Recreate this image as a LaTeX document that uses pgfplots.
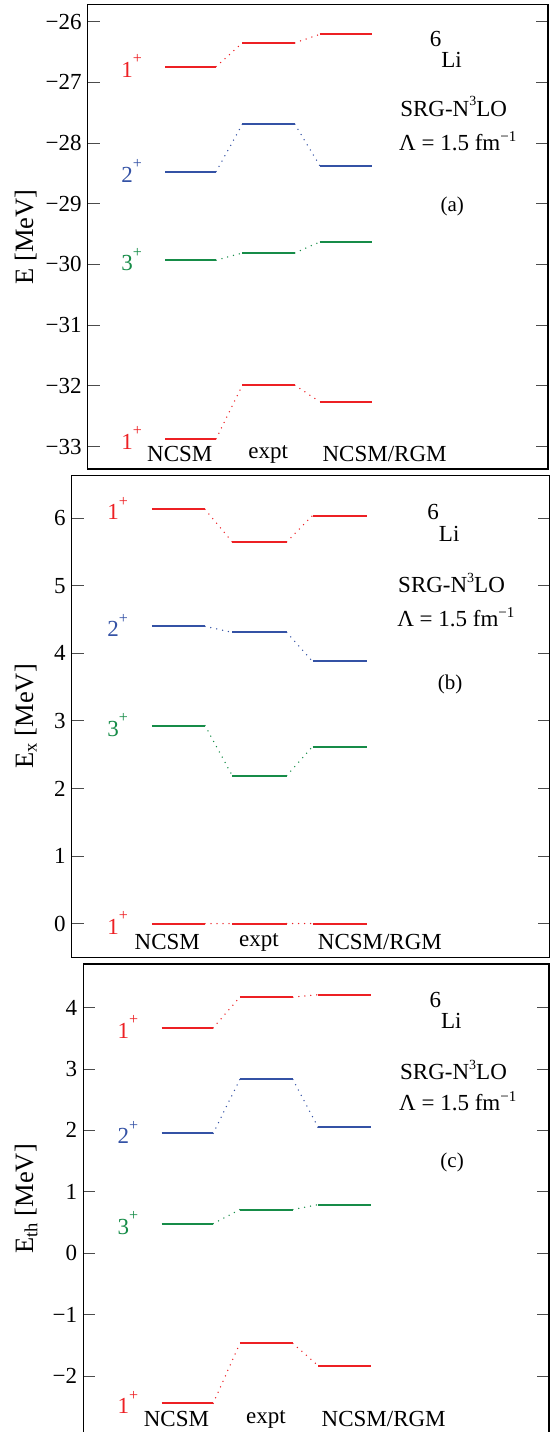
\documentclass[border=0pt]{standalone}
\usepackage{fontspec}
\setmainfont{Liberation Serif}
\usepackage{pgfplots}
\pgfplotsset{compat=1.18}

\definecolor{lvred}{RGB}{237,32,36}
\definecolor{lvblue}{RGB}{52,82,165}
\definecolor{lvgreen}{RGB}{22,140,72}

\newcommand{\fs}[1]{\fontsize{#1}{#1}\selectfont}

\pgfplotsset{
  levelpanel/.style={
    scale only axis, anchor=south west,
    xmin=0, xmax=1, xtick=\empty,
    tick align=inside, major tick length=12pt,
    tick style={line width=0.9pt, black!70},
    axis line style={line width=1.1pt},
    yticklabel style={font=\fs{23}, inner sep=0pt, xshift=-6pt},
    clip=false,
  },
  lvl/.style={line width=2pt},
  conn/.style={line width=1.5pt, line cap=round, dash pattern=on 0pt off 6pt},
}

% one spin state: colour, NCSM, expt, NCSM/RGM energy, J label
\newcommand{\levels}[5]{%
  \addplot[#1, conn] coordinates {(0.279,#2) (0.336,#3)};
  \addplot[#1, conn] coordinates {(0.450,#3) (0.504,#4)};
  \addplot[#1, lvl] coordinates {(0.168,#2) (0.279,#2)};
  \addplot[#1, lvl] coordinates {(0.336,#3) (0.450,#3)};
  \addplot[#1, lvl] coordinates {(0.504,#4) (0.617,#4)};
  \node[text=#1, anchor=base east, inner sep=0pt, yshift=-10.5pt, font=\fs{23}]
    at (axis cs:0.118,#2) {#5\raisebox{13.5pt}{\fs{16}+}};
}

% column names and nucleus / interaction text
\newcommand{\columns}{%
  \node[anchor=base, inner sep=0pt, font=\fs{23}] at (rel axis cs:0.200,0) [yshift=7.5pt] {NCSM};
  \node[anchor=base, inner sep=0pt, font=\fs{23}] at (rel axis cs:0.392,0) [yshift=10.8pt] {expt};
  \node[anchor=base, inner sep=0pt, font=\fs{23}] at (rel axis cs:0.645,0) [yshift=7.5pt] {NCSM/RGM};
}
\newcommand{\nucleus}[5]{%
  \node[anchor=base, inner sep=0pt, font=\fs{23}] at (rel axis cs:0.778,1) [yshift=-#1pt] {\raisebox{21.5pt}{6}Li};
  \node[anchor=base, inner sep=0pt, font=\fs{23}] at (rel axis cs:0.795,1) [yshift=-#2pt] {SRG-N\raisebox{10.5pt}{\fs{14}3}LO};
  \node[anchor=base, inner sep=0pt, font=\fs{23}] at (rel axis cs:0.804,1) [yshift=-#3pt] {Λ = 1.5 fm\raisebox{9pt}{\fs{15}−1}};
  \node[anchor=base, inner sep=0pt, font=\fs{21}] at (rel axis cs:0.792,1) [yshift=-#4pt] {#5};
}

\begin{document}
\begin{tikzpicture}

% (a) total energies
\begin{axis}[levelpanel, at={(87.7pt,963pt)},
  width=460.3pt, height=464.3pt,
  ymin=-33.37, ymax=-25.72,
  ytick={-33,-32,-31,-30,-29,-28,-27,-26},
  yticklabels={−33,−32,−31,−30,−29,−28,−27,−26}]
  \levels{lvred}{-26.74}{-26.35}{-26.21}{1}
  \levels{lvblue}{-28.47}{-27.69}{-28.37}{2}
  \levels{lvgreen}{-29.93}{-29.81}{-29.63}{3}
  \levels{lvred}{-32.87}{-31.99}{-32.26}{1}
  \columns
  \nucleus{63.3}{111.7}{145.7}{206.7}{(a)}
\end{axis}
\node[rotate=90, anchor=base, inner sep=0pt, font=\fs{26.5}] at (33pt,1195pt) {E [MeV]};

% (b) excitation energies
\begin{axis}[levelpanel, at={(71.7pt,474.7pt)},
  width=477.8pt, height=481.6pt,
  ymin=-0.50, ymax=6.63,
  ytick={0,1,2,3,4,5,6},
  yticklabels={0,1,2,3,4,5,6}]
  \levels{lvred}{6.13}{5.65}{6.04}{1}
  \levels{lvblue}{4.40}{4.31}{3.88}{2}
  \levels{lvgreen}{2.93}{2.19}{2.62}{3}
  \levels{lvred}{0}{0}{0}{1}
  \columns
  \nucleus{65.7}{117.3}{150.7}{214}{(b)}
\end{axis}
\node[rotate=90, anchor=base, inner sep=0pt, font=\fs{26.5}] at (33pt,715.5pt) {E\textsubscript{x} [MeV]};

% (c) energies relative to the alpha+d threshold
\begin{axis}[levelpanel, at={(83.3pt,-2pt)},
  width=465.7pt, height=470pt,
  ymin=-2.945, ymax=4.71,
  ytick={-2,-1,0,1,2,3,4},
  yticklabels={−2,−1,0,1,2,3,4}]
  \levels{lvred}{3.67}{4.17}{4.21}{1}
  \levels{lvblue}{1.95}{2.83}{2.05}{2}
  \levels{lvgreen}{0.48}{0.71}{0.79}{3}
  \levels{lvred}{-2.445}{-1.47}{-1.83}{1}
  \columns
  \nucleus{65}{116}{147}{203.7}{(c)}
\end{axis}
\node[rotate=90, anchor=base, inner sep=0pt, font=\fs{26.5}] at (33pt,233pt) {E\textsubscript{th} [MeV]};

\pgfresetboundingbox
\path[use as bounding box] (0,0) rectangle (553pt,1432pt);
\end{tikzpicture}
\end{document}
